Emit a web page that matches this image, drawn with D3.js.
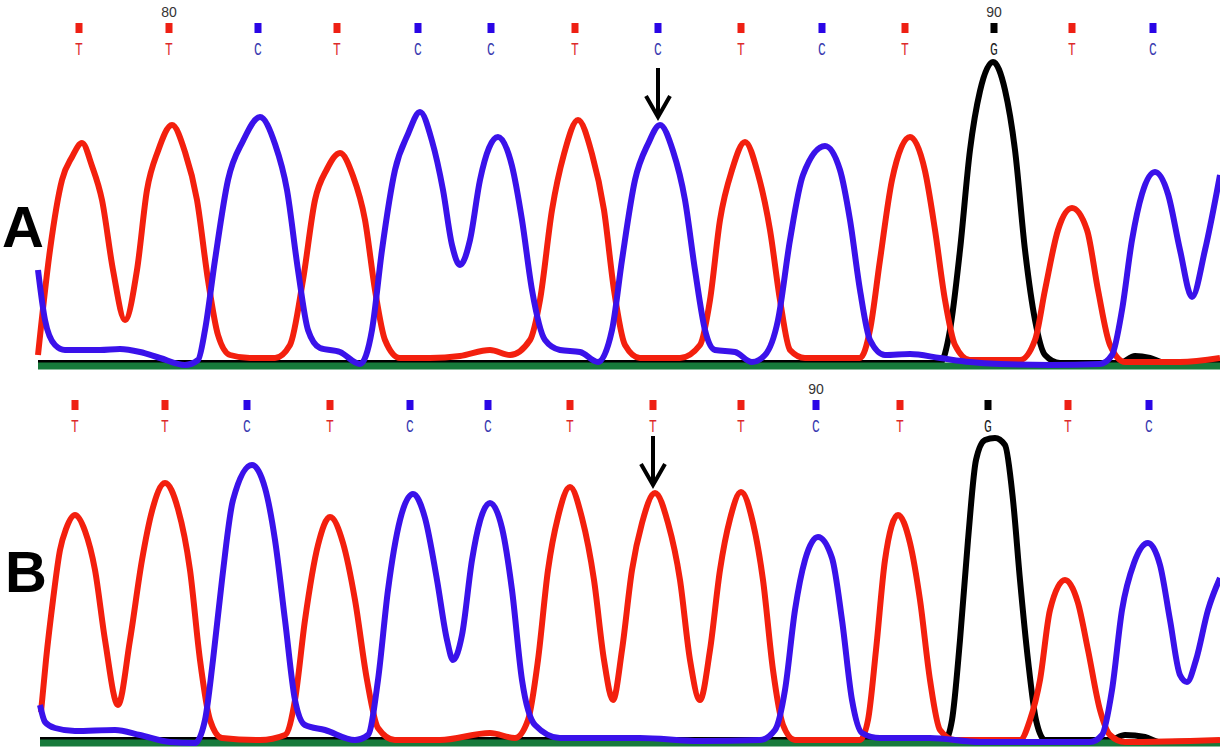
<!DOCTYPE html>
<html>
<head>
<meta charset="utf-8">
<script src="https://cdn.jsdelivr.net/npm/d3@7"></script>
<style>
body { margin: 0; background: #fff; }
</style>
</head>
<body>
<div id="chromatogram"></div>
<script>
// base calls (letter + scan position of the call)
let basesA = ["T","T","C","T","C","C","T","C","T","C","T","G","T","C"];
let callScanA = [41,131,220,299,380,453,537,620,703,784,867,956,1034,1115];
let basesB = ["T","T","C","T","C","C","T","T","T","C","T","G","T","C"];
let callScanB = [35,125,207,290,370,448,530,613,701,776,860,948,1028,1109];

// position numbers shown above some calls (index into the calls)
let tickIndexA = [1, 11];
let tickTextA = ["80", "90"];
let tickIndexB = [9];
let tickTextB = ["90"];

// call marked with an arrow
let arrowIndexA = 7;
let arrowIndexB = 7;

// traces, [scan, signal]
let redA = [[0,11],[12,116],[24,186],[34,209],[44,223],[54,200],[64,166],[75,96],[87,46],[99,96],[109,176],[120,215],[134,241],[147,214],[159,166],[170,86],[180,31],[192,11],[212,8],[237,8],[252,21],[265,86],[277,166],[289,197],[302,213],[315,190],[327,146],[337,76],[347,26],[362,8],[392,8],[422,10],[452,16],[472,11],[492,26],[502,66],[514,156],[526,212],[540,246],[554,212],[566,156],[576,76],[587,21],[602,8],[642,8],[662,21],[672,66],[682,146],[694,196],[707,224],[720,192],[732,136],[742,66],[752,16],[767,8],[822,8],[832,36],[842,106],[854,186],[872,229],[887,195],[897,136],[907,66],[917,21],[932,6],[982,6],[997,26],[1007,76],[1020,136],[1034,158],[1049,136],[1060,76],[1072,21],[1087,4],[1142,4],[1182,8]];
let blueA = [[0,96],[7,46],[17,21],[27,16],[62,16],[82,17],[102,14],[122,8],[147,1],[160,6],[167,36],[177,106],[190,186],[205,225],[222,249],[237,222],[249,176],[260,96],[270,36],[282,18],[302,14],[322,2],[334,36],[344,116],[357,196],[370,232],[382,254],[394,225],[405,176],[414,121],[422,101],[432,126],[442,186],[460,229],[474,200],[484,146],[494,76],[507,26],[522,16],[542,14],[560,4],[574,36],[584,106],[597,186],[610,222],[622,241],[635,215],[647,166],[657,96],[667,36],[677,16],[697,14],[714,4],[727,11],[740,46],[752,126],[765,191],[787,220],[802,196],[812,146],[822,76],[832,26],[847,11],[872,12],[902,8],[932,4],[962,2],[1012,1],[1062,2],[1074,11],[1084,56],[1094,126],[1104,172],[1117,194],[1130,172],[1142,116],[1154,69],[1167,116],[1182,191]];
let blackA = [[0,3],[300,3],[600,3],[902,3],[912,36],[922,116],[932,216],[942,275],[955,304],[967,276],[977,216],[987,116],[997,46],[1007,11],[1022,3],[1082,3],[1097,10],[1112,8],[1127,3],[1182,2]];
let greenA = [[0,0],[400,0],[800,0],[1182,0]];

let redB = [[1,31],[6,83],[13,143],[20,193],[26,214],[35,228],[45,212],[55,173],[65,103],[78,38],[90,103],[102,183],[112,232],[125,260],[138,234],[150,173],[160,83],[170,23],[182,5],[220,3],[245,8],[255,43],[265,123],[278,198],[290,226],[303,200],[315,143],[327,63],[338,15],[355,3],[400,3],[450,10],[475,5],[488,23],[498,83],[508,173],[518,226],[530,256],[542,225],[554,163],[564,83],[573,43],[582,93],[592,173],[602,220],[615,250],[628,220],[640,163],[650,83],[660,43],[670,93],[680,173],[690,224],[701,251],[713,220],[723,163],[733,73],[743,18],[755,3],[820,3],[828,23],[836,93],[845,183],[858,228],[870,200],[880,143],[890,63],[900,13],[915,3],[980,3],[990,23],[1000,63],[1010,133],[1025,163],[1038,140],[1048,93],[1060,33],[1070,8],[1085,1],[1180,3]];
let blueB = [[0,38],[5,21],[15,15],[35,12],[75,13],[100,8],[130,1],[155,0],[165,23],[173,83],[182,163],[193,243],[212,278],[225,255],[235,203],[245,123],[255,43],[265,18],[285,13],[315,3],[328,8],[338,63],[348,153],[360,223],[373,249],[385,225],[397,163],[407,103],[413,83],[422,108],[432,183],[440,222],[450,240],[462,215],[472,153],[482,63],[495,18],[520,5],[600,5],[660,2],[720,3],[735,13],[745,53],[755,133],[765,183],[778,206],[792,185],[802,123],[812,43],[822,10],[840,5],[890,5],[940,1],[1050,1],[1062,8],[1072,53],[1082,133],[1094,180],[1108,200],[1120,178],[1130,123],[1140,68],[1147,61],[1156,83],[1168,133],[1180,165]];
let blackB = [[0,3],[300,3],[600,3],[905,3],[912,23],[920,103],[928,203],[936,283],[945,303],[955,305],[965,298],[973,243],[980,163],[988,83],[996,23],[1005,3],[1070,3],[1085,8],[1105,6],[1120,1],[1180,2]];
let greenB = [[0,0],[400,0],[800,0],[1180,0]];

let width = 1220, height = 747;

let traceColor = {A: "#177a3b", C: "#3a12ea", G: "#000000", T: "#f3200e"};
let squareColor = {C: "#2a06e6", G: "#000000", T: "#ee2014"};
let letterColor = {C: "#3a3ab0", G: "#222222", T: "#dd2a2a"};

let svg = d3.select("#chromatogram")
  .append("svg")
  .attr("width", width)
  .attr("height", height)
  .style("display", "block");

svg.append("rect").attr("width", width).attr("height", height).attr("fill", "#fff");

let panels = [
  {name: "A", bases: basesA, calls: callScanA, tickIndex: tickIndexA, tickText: tickTextA, arrow: arrowIndexA,
   traces: [["G", blackA], ["A", greenA], ["T", redA], ["C", blueA]],
   xRange: [38, 1220], xMax: 1182, base: 366, numY: 17, sqY: 23, letterY: 55, arrowTop: 68, letterX: 2, letterBase: 247},
  {name: "B", bases: basesB, calls: callScanB, tickIndex: tickIndexB, tickText: tickTextB, arrow: arrowIndexB,
   traces: [["G", blackB], ["A", greenB], ["T", redB], ["C", blueB]],
   xRange: [40, 1220], xMax: 1180, base: 743, numY: 394, sqY: 400, letterY: 432, arrowTop: 436, letterX: 5, letterBase: 592}
];

panels.forEach(function(p) {
  let x = d3.scaleLinear().domain([0, p.xMax]).range(p.xRange);
  let y = d3.scaleLinear().domain([0, 310]).range([p.base, p.base - 310]);
  let g = svg.append("g");

  let line = d3.line()
    .x(d => x(d[0]))
    .y(d => y(d[1]))
    .curve(d3.curveMonotoneX);

  // traces (green baseline drawn over the black one, so only a sliver of black shows)
  g.selectAll("path.trace")
    .data(p.traces)
    .enter()
    .append("path")
    .attr("class", "trace")
    .attr("d", d => line(d[1]))
    .attr("fill", "none")
    .attr("stroke", d => traceColor[d[0]])
    .attr("stroke-width", d => d[0] == "A" ? 7 : 6)
    .attr("stroke-linejoin", "round");

  // base call markers
  let calls = p.bases.map((b, i) => ({base: b, scan: p.calls[i]}));
  g.selectAll("rect.call")
    .data(calls)
    .enter()
    .append("rect")
    .attr("x", d => x(d.scan) - 3.5)
    .attr("y", p.sqY)
    .attr("width", 7)
    .attr("height", 10)
    .attr("fill", d => squareColor[d.base]);

  g.selectAll("text.call")
    .data(calls)
    .enter()
    .append("text")
    .attr("transform", d => "translate(" + x(d.scan) + "," + p.letterY + ") scale(1,1.35)")
    .attr("text-anchor", "middle")
    .style("font-family", "Liberation Mono, monospace")
    .style("font-size", "13px")
    .attr("fill", d => letterColor[d.base])
    .text(d => d.base);

  // position numbers
  g.selectAll("text.num")
    .data(p.tickIndex)
    .enter()
    .append("text")
    .attr("x", d => x(p.calls[d]))
    .attr("y", p.numY)
    .attr("text-anchor", "middle")
    .style("font-family", "Liberation Sans, Arial, sans-serif")
    .style("font-size", "14px")
    .attr("fill", "#333")
    .text((d, i) => p.tickText[i]);

  // arrow over the marked call
  let ax = x(p.calls[p.arrow]);
  let tip = p.arrowTop + 49;
  g.append("line")
    .attr("x1", ax).attr("x2", ax)
    .attr("y1", p.arrowTop).attr("y2", tip - 2)
    .attr("stroke", "#000").attr("stroke-width", 4);
  g.append("path")
    .attr("d", "M" + (ax - 12) + "," + (tip - 21) + "L" + ax + "," + tip + "L" + (ax + 12) + "," + (tip - 21))
    .attr("fill", "none")
    .attr("stroke", "#000")
    .attr("stroke-width", 4);

  // panel letter
  svg.append("text")
    .attr("x", p.letterX)
    .attr("y", p.letterBase)
    .style("font-family", "Liberation Sans, Arial, sans-serif")
    .style("font-weight", "bold")
    .style("font-size", "58px")
    .attr("fill", "#000")
    .text(p.name);
});
</script>
</body>
</html>
